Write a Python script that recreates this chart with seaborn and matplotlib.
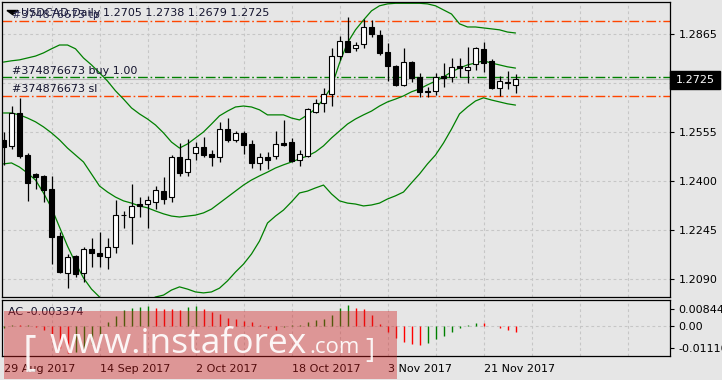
import numpy as np
import pandas as pd
import matplotlib
matplotlib.use("Agg")
import matplotlib.pyplot as plt
from matplotlib.patches import Rectangle, Polygon
import seaborn as sns

# ---------------- data ----------------
dates = pd.bdate_range("2017-08-29", periods=65)
opens = [1.2531, 1.2510, 1.2617, 1.2483, 1.2423, 1.2417, 1.2376, 1.2227, 1.2111, 1.2164,
         1.2109, 1.2186, 1.2172, 1.2162, 1.2193, 1.2292, 1.2288, 1.2328, 1.2327, 1.2336,
         1.2369, 1.2349, 1.2478, 1.2429, 1.2489, 1.2508, 1.2485, 1.2476, 1.2565, 1.2529,
         1.2552, 1.2518, 1.2457, 1.2476, 1.2480, 1.2520, 1.2523, 1.2467, 1.2480, 1.2620,
         1.2647, 1.2675, 1.2796, 1.2845, 1.2821, 1.2834, 1.2887, 1.2863, 1.2810, 1.2765,
         1.2705, 1.2778, 1.2729, 1.2683, 1.2687, 1.2733, 1.2731, 1.2765, 1.2752, 1.2770,
         1.2819, 1.2781, 1.2694, 1.2715, 1.2705]
highs = [1.2556, 1.2638, 1.2663, 1.2491, 1.2427, 1.2420, 1.2417, 1.2241, 1.2169, 1.2167,
         1.2193, 1.2220, 1.2241, 1.2220, 1.2341, 1.2307, 1.2392, 1.2351, 1.2354, 1.2385,
         1.2413, 1.2483, 1.2522, 1.2534, 1.2525, 1.2539, 1.2499, 1.2589, 1.2599, 1.2560,
         1.2560, 1.2531, 1.2491, 1.2492, 1.2559, 1.2594, 1.2538, 1.2499, 1.2633, 1.2660,
         1.2694, 1.2821, 1.2861, 1.2921, 1.2842, 1.2913, 1.2909, 1.2879, 1.2837, 1.2768,
         1.2821, 1.2781, 1.2744, 1.2697, 1.2742, 1.2775, 1.2789, 1.2789, 1.2826, 1.2824,
         1.2839, 1.2786, 1.2733, 1.2749, 1.2738]
lows = [1.2452, 1.2501, 1.2475, 1.2338, 1.2376, 1.2336, 1.2138, 1.2111, 1.2062, 1.2098,
        1.2082, 1.2130, 1.2128, 1.2122, 1.2172, 1.2253, 1.2201, 1.2288, 1.2253, 1.2312,
        1.2327, 1.2336, 1.2417, 1.2418, 1.2467, 1.2478, 1.2448, 1.2462, 1.2523, 1.2525,
        1.2485, 1.2441, 1.2436, 1.2439, 1.2470, 1.2513, 1.2462, 1.2449, 1.2476, 1.2615,
        1.2620, 1.2638, 1.2784, 1.2808, 1.2813, 1.2823, 1.2857, 1.2800, 1.2717, 1.2702,
        1.2702, 1.2715, 1.2668, 1.2666, 1.2673, 1.2697, 1.2715, 1.2729, 1.2712, 1.2752,
        1.2747, 1.2691, 1.2670, 1.2691, 1.2679]
closes = [1.2509, 1.2617, 1.2481, 1.2396, 1.2415, 1.2373, 1.2225, 1.2114, 1.2162, 1.2107,
          1.2186, 1.2172, 1.2164, 1.2191, 1.2293, 1.2293, 1.2322, 1.2323, 1.2341, 1.2373,
          1.2344, 1.2477, 1.2425, 1.2471, 1.2508, 1.2483, 1.2476, 1.2565, 1.2529, 1.2552,
          1.2515, 1.2457, 1.2476, 1.2467, 1.2517, 1.2515, 1.2465, 1.2485, 1.2628, 1.2647,
          1.2675, 1.2796, 1.2845, 1.2808, 1.2830, 1.2887, 1.2865, 1.2807, 1.2765, 1.2704,
          1.2777, 1.2728, 1.2682, 1.2684, 1.2731, 1.2728, 1.2763, 1.2758, 1.2761, 1.2821,
          1.2775, 1.2694, 1.2717, 1.2710, 1.2725]
bb_upper = [1.2777, 1.2781, 1.2784, 1.2790, 1.2796, 1.2806, 1.2819, 1.2831, 1.2831, 1.2819,
            1.2790, 1.2768, 1.2743, 1.2717, 1.2686, 1.2660, 1.2632, 1.2613, 1.2597, 1.2578,
            1.2553, 1.2524, 1.2505, 1.2518, 1.2537, 1.2556, 1.2581, 1.2607, 1.2622, 1.2635,
            1.2638, 1.2635, 1.2626, 1.2610, 1.2610, 1.2610, 1.2600, 1.2594, 1.2610, 1.2629,
            1.2660, 1.2698, 1.2774, 1.2838, 1.2879, 1.2910, 1.2939, 1.2955, 1.2961, 1.2963,
            1.2963, 1.2963, 1.2963, 1.2961, 1.2955, 1.2942, 1.2929, 1.2898, 1.2888, 1.2888,
            1.2885, 1.2882, 1.2879, 1.2872, 1.2869]
bb_middle = [1.2616, 1.2616, 1.2610, 1.2600, 1.2588, 1.2572, 1.2553, 1.2531, 1.2505, 1.2483,
             1.2461, 1.2423, 1.2385, 1.2366, 1.2350, 1.2338, 1.2331, 1.2322, 1.2316, 1.2306,
             1.2297, 1.2290, 1.2287, 1.2290, 1.2293, 1.2300, 1.2312, 1.2331, 1.2350, 1.2369,
             1.2388, 1.2404, 1.2417, 1.2429, 1.2442, 1.2452, 1.2461, 1.2471, 1.2480, 1.2493,
             1.2512, 1.2537, 1.2559, 1.2581, 1.2597, 1.2610, 1.2622, 1.2638, 1.2651, 1.2660,
             1.2670, 1.2683, 1.2692, 1.2705, 1.2717, 1.2730, 1.2746, 1.2758, 1.2768, 1.2774,
             1.2781, 1.2774, 1.2768, 1.2762, 1.2758]
bb_lower = [1.2455, 1.2458, 1.2445, 1.2426, 1.2404, 1.2363, 1.2316, 1.2255, 1.2195, 1.2142,
            1.2094, 1.2059, 1.2034, 1.2006, 1.1983, 1.1974, 1.1980, 1.1999, 1.2021, 1.2034,
            1.2040, 1.2056, 1.2066, 1.2059, 1.2050, 1.2047, 1.2050, 1.2062, 1.2085, 1.2113,
            1.2138, 1.2170, 1.2211, 1.2268, 1.2290, 1.2309, 1.2335, 1.2363, 1.2369, 1.2379,
            1.2388, 1.2360, 1.2338, 1.2331, 1.2328, 1.2322, 1.2325, 1.2331, 1.2344, 1.2354,
            1.2366, 1.2395, 1.2423, 1.2455, 1.2483, 1.2521, 1.2565, 1.2613, 1.2635, 1.2654,
            1.2664, 1.2657, 1.2651, 1.2645, 1.2641]
ac_values = [-0.0012, 0.0002, 0.0002, 0.0003, -0.0008, -0.0020, -0.0072, -0.0113, -0.0135, -0.0133,
             -0.0118, -0.0090, -0.0050, 0.0020, 0.0050, 0.0078, 0.0087, 0.0095, 0.0097, 0.0090,
             0.0083, 0.0082, 0.0080, 0.0093, 0.0098, 0.0083, 0.0070, 0.0057, 0.0040, 0.0033,
             0.0025, 0.0017, 0.0001, -0.0014, -0.0022, -0.0005, 0.0001, 0.0003, 0.0017, 0.0028,
             0.0032, 0.0053, 0.0090, 0.0103, 0.0090, 0.0083, 0.0053, 0.0010, -0.0030, -0.0063,
             -0.0080, -0.0090, -0.0095, -0.0088, -0.0067, -0.0050, -0.0030, -0.0010, 0.0003, 0.0013,
             0.0012, -0.0001, -0.0013, -0.0023, -0.003374]
ac_up = [1, 1, 0, 1, 0, 0, 0, 0, 0, 1,
         1, 1, 1, 1, 1, 1, 1, 1, 1, 0,
         0, 0, 0, 1, 1, 0, 0, 0, 0, 0,
         0, 0, 0, 0, 0, 1, 1, 1, 1, 1,
         1, 1, 1, 1, 0, 0, 0, 0, 0, 0,
         0, 0, 0, 1, 1, 1, 1, 1, 1, 1,
         0, 0, 0, 0, 0]
price_ticks = [1.2865, 1.2710, 1.2555, 1.2400, 1.2245, 1.2090]
ac_ticks = [0.008441, 0.0, -0.011100]
ac_tick_labels = ["0.008441", "0.00", "-0.011100"]
date_tick_idx = [0, 12, 24, 36, 48, 60]
date_tick_labels = ["29 Aug 2017", "14 Sep 2017", "2 Oct 2017", "18 Oct 2017", "3 Nov 2017", "21 Nov 2017"]
tp_level = 1.2907
buy_level = 1.2730
sl_level = 1.2669
last_price = 1.2725
order_id = "#374876673"
header_symbol = "USDCAD,Daily"
header_prices = "1.2705 1.2738 1.2679 1.2725"
ac_label = "AC -0.003374"

# ---------------- style ----------------
W, H = 722, 380
sns.set_style("white")
plt.rcParams['font.family'] = ['DejaVu Sans']
BG = '#e6e6e6'
GRID = '#c6c6c6'
GREEN = '#008000'
ORANGE = '#ff4500'
TXT = '#14142e'

fig = plt.figure(figsize=(W / 100, H / 100), dpi=100, facecolor=BG)


def fx(x):
    return x / W


def fy(y):
    return 1 - y / H


ax = fig.add_axes([fx(2), fy(297), fx(670) - fx(2), fy(2) - fy(297)], facecolor=BG)
ax2 = fig.add_axes([fx(2), fy(356), fx(670) - fx(2), fy(300) - fy(356)], facecolor=BG)

idx = np.arange(len(opens))
xlim = (-0.1875, 83.3125)

# ---------- main chart ----------
ax.set_xlim(*xlim)
ax.set_ylim(1.2034, 1.2967)
for k in range(6, 84, 6):
    ax.axvline(k, color=GRID, lw=0.8, ls=(0, (2.5, 2.5)), zorder=0.5)
for v in price_ticks:
    ax.axhline(v, color=GRID, lw=0.8, ls=(0, (2.5, 2.5)), zorder=0.5)

ax.axhline(last_price, color='#b8b8b8', lw=0.8, zorder=0.6)
ax.axhline(tp_level, color=ORANGE, lw=1, ls=(0, (7, 2, 1.2, 2)), zorder=1)
ax.axhline(sl_level, color=ORANGE, lw=1, ls=(0, (7, 2, 1.2, 2)), zorder=1)
ax.axhline(buy_level, color=GREEN, lw=1, ls=(0, (7, 2, 1.2, 2)), zorder=1)

bands = pd.DataFrame({"i": idx, "upper": bb_upper, "middle": bb_middle, "lower": bb_lower})
for col in ["upper", "middle", "lower"]:
    sns.lineplot(data=bands, x="i", y=col, ax=ax, color=GREEN, linewidth=0.9, legend=False, zorder=2)

o = np.array(opens); c = np.array(closes); hi = np.array(highs); lo = np.array(lows)
ax.vlines(idx, lo, hi, color='black', lw=0.9, zorder=3)
bull = c >= o
body_h = np.maximum(np.abs(c - o), 0.00003)
ax.bar(idx, body_h, bottom=np.minimum(o, c), width=0.55,
       color=np.where(bull, 'white', 'black'), edgecolor='black', linewidth=0.8, zorder=4)

ax.set_xticks([])
ax.yaxis.tick_right()
ax.set_yticks(price_ticks)
ax.set_yticklabels([f"{v:.4f}" for v in price_ticks])
ax.tick_params(axis='y', length=3, width=0.8, pad=3, labelsize=8, colors='black', direction='out')
ax.set_xlabel(""); ax.set_ylabel("")
for s in ax.spines.values():
    s.set_color('black'); s.set_linewidth(0.9)

# ---------- AC sub-window ----------
ax2.set_xlim(*xlim)
ax2.set_ylim(-0.0152, 0.0128)
for k in range(6, 84, 6):
    ax2.axvline(k, color=GRID, lw=0.8, ls=(0, (2.5, 2.5)), zorder=0.5)
ax2.axhline(0, color=GRID, lw=0.8, ls=(0, (2.5, 2.5)), zorder=0.5)
ax2.vlines(idx, 0, ac_values, colors=[GREEN if u else '#ff0000' for u in ac_up], lw=1.0, zorder=3)
ax2.yaxis.tick_right()
ax2.set_yticks(ac_ticks)
ax2.set_yticklabels(ac_tick_labels)
ax2.set_xticks(date_tick_idx)
ax2.set_xticklabels(date_tick_labels)
for lbl in ax2.get_xticklabels():
    lbl.set_ha('left')
ax2.tick_params(axis='y', length=3, width=0.8, pad=3, labelsize=8, colors='black', direction='out')
ax2.tick_params(axis='x', length=4, width=0.8, pad=2, labelsize=8, colors='black', direction='out')
for s in ax2.spines.values():
    s.set_color('black'); s.set_linewidth(0.9)

# ---------- overlay texts ----------
fig.patches.append(Polygon([[fx(7), fy(10.5)], [fx(18), fy(10.5)], [fx(12.5), fy(14.5)]],
                           closed=True, transform=fig.transFigure, fc='black', ec='black', zorder=5))
fig.text(fx(21), fy(12.5), header_symbol, fontsize=8, color=TXT, va='center', ha='left', zorder=6)
fig.text(fx(103), fy(12.5), header_prices, fontsize=8, color=TXT, va='center', ha='left', zorder=6)
fig.text(fx(11.5), fy(15), f"{order_id} tp", fontsize=8, color='#2a2a50', va='center', ha='left', zorder=6)
fig.text(fx(11.5), fy(71), f"{order_id} buy 1.00", fontsize=8, color=TXT, va='center', ha='left', zorder=6)
fig.text(fx(11.5), fy(89.5), f"{order_id} sl", fontsize=8, color=TXT, va='center', ha='left', zorder=6)
fig.text(fx(7.5), fy(312), ac_label, fontsize=8, color=TXT, va='center', ha='left', zorder=6)

# price tag
fig.patches.append(Rectangle((fx(670), fy(88.5)), fx(720) - fx(670), fy(71.5) - fy(88.5),
                             transform=fig.transFigure, fc='black', ec='black', zorder=8))
fig.text(fx(676), fy(80), f"{last_price:.4f}", fontsize=8, color='white', va='center', ha='left', zorder=9)

# watermark
fig.patches.append(Rectangle((fx(4), fy(379)), fx(397) - fx(4), fy(311) - fy(379),
                             transform=fig.transFigure, fc=(0.82, 0.12, 0.12), ec='none', alpha=0.40, zorder=10))
fig.text(fx(23), fy(364), "[", fontsize=30, color='white', alpha=0.9, va='baseline', ha='left',
         family='Open Sans', zorder=11)
fig.text(fx(50), fy(353), "www.instaforex", fontsize=25.5, color='white', alpha=0.92, va='baseline', ha='left',
         family='Open Sans', zorder=11)
fig.text(fx(309), fy(353), ".com", fontsize=16, color='white', alpha=0.92, va='baseline', ha='left',
         family='Open Sans', zorder=11)
fig.text(fx(365), fy(358), "]", fontsize=20, color='white', alpha=0.9, va='baseline', ha='left',
         family='Open Sans', zorder=11)

fig.savefig("out.png", dpi=100, facecolor=BG)
